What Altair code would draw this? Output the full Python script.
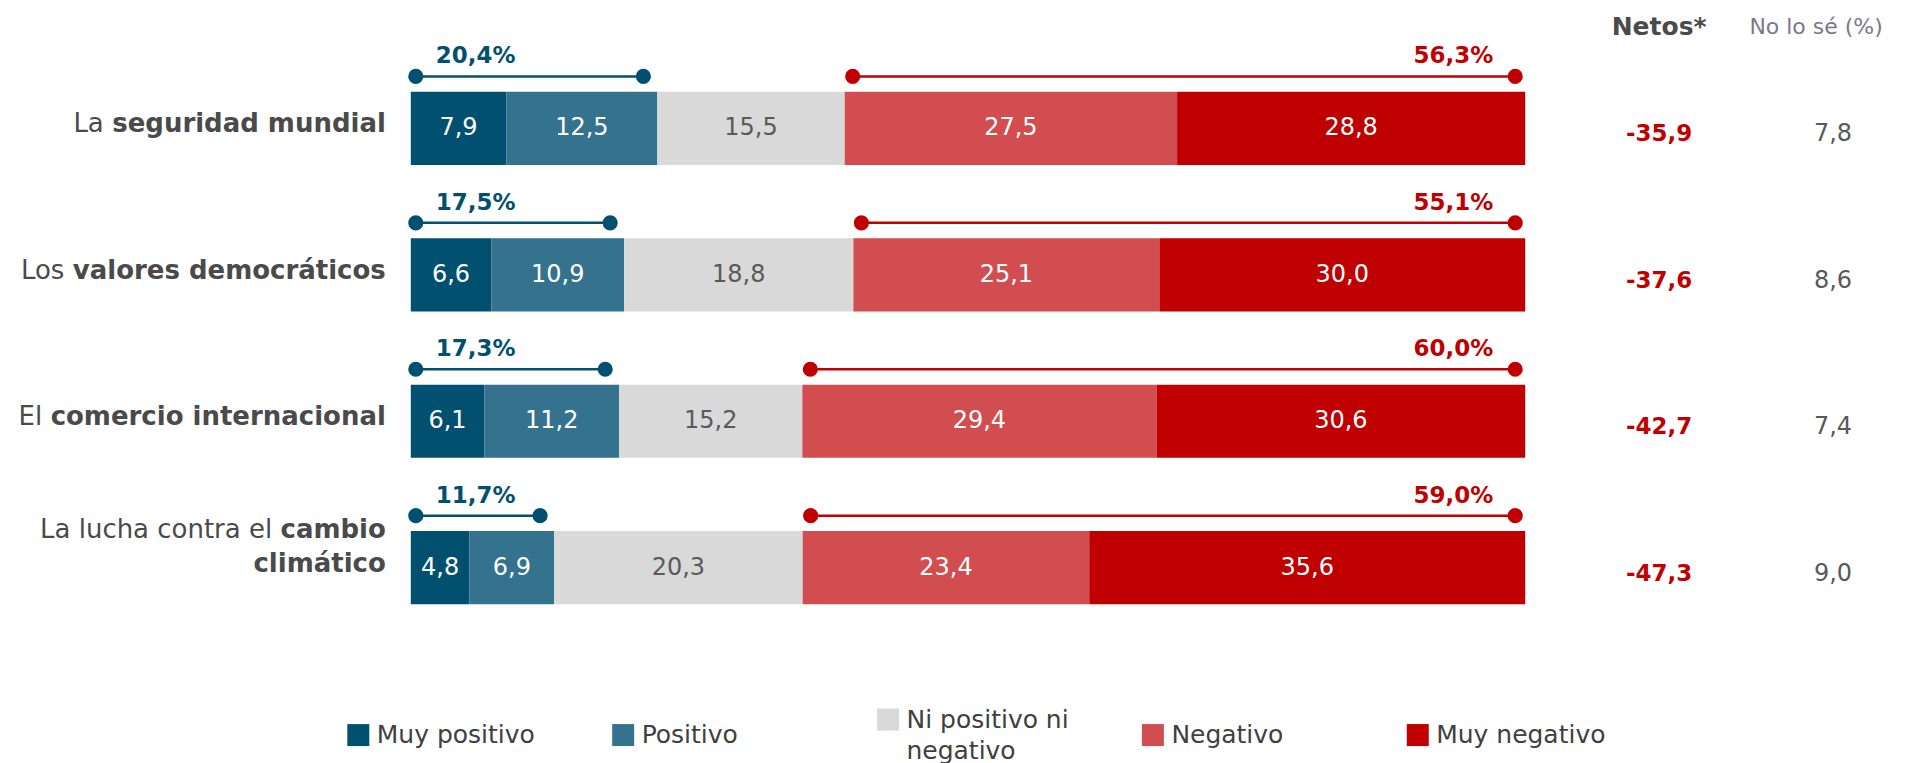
import altair as alt
import pandas as pd

# ---------------- data ----------------
categories = [
    "La seguridad mundial",
    "Los valores democráticos",
    "El comercio internacional",
    "La lucha contra el cambio climático",
]
label_regular = ["La", "Los", "El", "La lucha contra el"]
label_bold = ["seguridad mundial", "valores democráticos", "comercio internacional", "cambio"]
label_bold_line2 = ["", "", "", "climático"]

segments = ["Muy positivo", "Positivo", "Ni positivo ni negativo", "Negativo", "Muy negativo"]
segment_side = ["pos", "pos", "neu", "neg", "neg"]
muy_positivo = [7.9, 6.6, 6.1, 4.8]
positivo = [12.5, 10.9, 11.2, 6.9]
neutral = [15.5, 18.8, 15.2, 20.3]
negativo = [27.5, 25.1, 29.4, 23.4]
muy_negativo = [28.8, 30.0, 30.6, 35.6]
netos = [-35.9, -37.6, -42.7, -47.3]
no_lo_se = [7.8, 8.6, 7.4, 9.0]

colors = ["#02506f", "#35728e", "#d9d9d9", "#d24d4f", "#c00000"]

FONT = "DejaVu Sans"
W, H = 1115, 586


def fmt(v):
    return f"{v:.1f}".replace(".", ",")


seg_rows = []
for i, cat in enumerate(categories):
    vals = [muy_positivo[i], positivo[i], neutral[i], negativo[i], muy_negativo[i]]
    for j, v in enumerate(vals):
        seg_rows.append(dict(category=cat, segment=segments[j], order=j, value=v,
                             side=segment_side[j], label=fmt(v)))
seg_df = pd.DataFrame(seg_rows)

col_df = pd.DataFrame({
    "category": categories,
    "netos": [fmt(v) for v in netos],
    "nolose": [fmt(v) for v in no_lo_se],
})

# approximate advance widths (em) of DejaVu Sans Bold, used to join regular + bold parts
BOLD_W = {" ": .348, "a": .675, "b": .716, "c": .593, "d": .716, "e": .678, "f": .435,
          "g": .716, "h": .712, "i": .343, "l": .343, "m": 1.042, "n": .712, "o": .687,
          "r": .493, "s": .595, "t": .478, "u": .712, "v": .652, "á": .675}
LAB_FS = 26
REG_SPACE = .318


def bold_width(s):
    return sum(BOLD_W.get(c, .68) for c in s) * LAB_FS


Y = alt.Y("category:N", sort=categories, axis=None,
          scale=alt.Scale(paddingInner=0.5, paddingOuter=0.25))
X_SCALE = alt.Scale(domain=[0, 1], nice=False, zero=True)

base = alt.Chart(seg_df).transform_stack(
    stack="value", groupby=["category"], as_=["x0", "x1"], offset="normalize",
    sort=[alt.SortField("order", order="ascending")],
)

bars = base.mark_bar(stroke=None).encode(
    y=Y,
    x=alt.X("x0:Q", scale=X_SCALE, axis=None),
    x2="x1:Q",
    color=alt.Color(
        "segment:N",
        scale=alt.Scale(domain=segments, range=colors),
        legend=alt.Legend(
            title=None, orient="none", legendX=-65, legendY=652,
            direction="horizontal", columns=5, gridAlign="all",
            symbolType="square", symbolSize=484, symbolStrokeWidth=0,
            labelFont=FONT, labelFontSize=25, labelColor="#404040",
            labelOffset=6, columnPadding=64, labelLimit=400,
            labelExpr="datum.label == 'Ni positivo ni negativo' ? ['Ni positivo ni', 'negativo'] : datum.label",
        ),
    ),
    order=alt.Order("order:Q"),
)

seg_text = base.transform_calculate(mid="(datum.x0 + datum.x1) / 2").mark_text(
    font=FONT, fontSize=24, baseline="middle", align="center"
).encode(
    y=Y,
    x=alt.X("mid:Q", scale=X_SCALE),
    text="label:N",
    color=alt.condition(alt.datum.side == "neu", alt.value("#5a5a5a"), alt.value("#ffffff")),
)

brk = base.transform_filter("datum.side != 'neu'").transform_aggregate(
    start="min(x0)", end="max(x1)", total="sum(value)", groupby=["category", "side"]
).transform_calculate(lab="replace(format(datum.total, '.1f'), '.', ',') + '%'")

bracket_layers = []
for side, col, off0, off1, lab_align, lab_dx in [
    ("pos", "#02506f", 5, -14, "left", 25),
    ("neg", "#c00000", 8, -10, "right", -32),
]:
    b = brk.transform_filter(f"datum.side == '{side}'")
    bracket_layers += [
        b.mark_rule(color=col, strokeWidth=2.5, xOffset=off0, x2Offset=off1, yOffset=-52).encode(
            y=Y, x=alt.X("start:Q", scale=X_SCALE), x2="end:Q"),
        b.mark_point(filled=True, shape="circle", size=230, opacity=1, color=col,
                     xOffset=off0, yOffset=-52).encode(y=Y, x=alt.X("start:Q", scale=X_SCALE)),
        b.mark_point(filled=True, shape="circle", size=230, opacity=1, color=col,
                     xOffset=off1, yOffset=-52).encode(y=Y, x=alt.X("end:Q", scale=X_SCALE)),
        b.mark_text(font=FONT, fontSize=23, fontWeight="bold", color=col, align=lab_align,
                    baseline="middle", yOffset=-72, dx=lab_dx).encode(
            y=Y, x=alt.X(("start" if side == "pos" else "end") + ":Q", scale=X_SCALE),
            text="lab:N"),
    ]

# ---------------- row labels (regular + bold parts) ----------------
ANCHOR = -25
label_layers = []
for i, cat in enumerate(categories):
    one = pd.DataFrame({"category": [cat], "reg": [label_regular[i]],
                        "bold": [label_bold[i]], "bold2": [label_bold_line2[i]]})
    two_lines = label_bold_line2[i] != ""
    yoff = -38 if two_lines else -4
    label_layers.append(
        alt.Chart(one).mark_text(font=FONT, fontSize=LAB_FS, fontWeight="bold", color="#4a4a4a",
                                 align="right", baseline="middle", yOffset=yoff)
        .encode(y=Y, x=alt.value(ANCHOR), text="bold:N"))
    label_layers.append(
        alt.Chart(one).mark_text(font=FONT, fontSize=LAB_FS, color="#4a4a4a",
                                 align="right", baseline="middle", yOffset=yoff)
        .encode(y=Y, x=alt.value(ANCHOR - bold_width(label_bold[i]) - REG_SPACE * LAB_FS),
                text="reg:N"))
    if two_lines:
        label_layers.append(
            alt.Chart(one).mark_text(font=FONT, fontSize=LAB_FS, fontWeight="bold", color="#4a4a4a",
                                     align="right", baseline="middle", yOffset=-4)
            .encode(y=Y, x=alt.value(ANCHOR), text="bold2:N"))

# ---------------- right columns ----------------
NET_X, NLS_X = 1249, 1423
net_text = alt.Chart(col_df).mark_text(
    font=FONT, fontSize=23, fontWeight="bold", color="#c00000", baseline="middle", yOffset=6
).encode(y=Y, x=alt.value(NET_X), text="netos:N")
nls_text = alt.Chart(col_df).mark_text(
    font=FONT, fontSize=24, color="#595959", baseline="middle", yOffset=6
).encode(y=Y, x=alt.value(NLS_X), text="nolose:N")

hdr_df = pd.DataFrame({"h": ["Netos*"], "h2": ["No lo sé (%)"]})
hdr1 = alt.Chart(hdr_df).mark_text(
    font=FONT, fontSize=25, fontWeight="bold", color="#4a4a4a", baseline="middle"
).encode(x=alt.value(NET_X), y=alt.value(-28), text="h:N")
hdr2 = alt.Chart(hdr_df).mark_text(
    font=FONT, fontSize=22, color="#7a7a86", baseline="middle"
).encode(x=alt.value(1406), y=alt.value(-28), text="h2:N")

chart = alt.layer(
    bars, seg_text, *bracket_layers, *label_layers, net_text, nls_text, hdr1, hdr2
).properties(
    width=W, height=H,
    autosize=alt.AutoSizeParams(type="none"),
    padding={"left": 403, "top": 47, "right": 380, "bottom": 122},
).configure(
    font=FONT,
    view=alt.ViewConfig(stroke=None),
    style={"guide-label": {"lineHeight": 31}},
)

chart.save("out.html", embed_options={"renderer": "svg", "actions": False})
